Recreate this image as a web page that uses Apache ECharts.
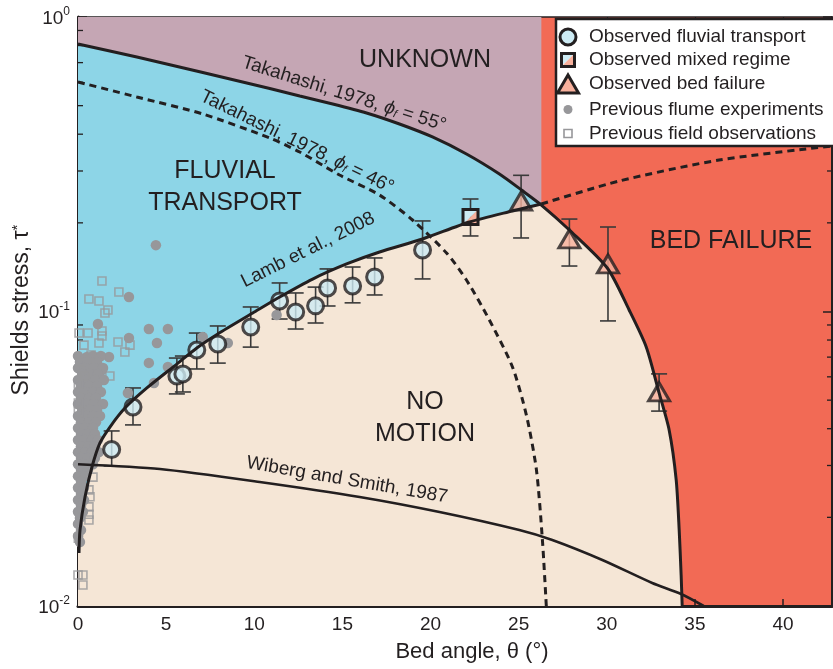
<!DOCTYPE html>
<html>
<head>
<meta charset="utf-8">
<script src="https://cdn.jsdelivr.net/npm/echarts@6/dist/echarts.min.js"></script>
<style>
  html, body { margin: 0; padding: 0; background: #ffffff; }
  #chart { width: 833px; height: 669px; }
</style>
</head>
<body>
<div id="chart"></div>
<script>
// ---- Axis ranges and ticks ----
const xMin = 0, xMax = 42.78;
const yMin = 0.01, yMax = 1;
const xTickStep = 5;
const yMinorTicks = [0.02, 0.03, 0.04, 0.05, 0.06, 0.07, 0.08, 0.09, 0.2, 0.3, 0.4, 0.5, 0.6, 0.7, 0.8, 0.9];

// ---- Observed fluvial transport: bed angle (deg), Shields stress, error-bar range ----
const fluvialAngle  = [1.91, 3.12, 5.61, 5.95, 6.74, 7.93, 9.80, 11.44, 12.35, 13.48, 14.16, 15.58, 16.83, 19.55];
const fluvialStress = [0.0340, 0.0474, 0.0604, 0.0614, 0.0740, 0.0776, 0.0886, 0.1086, 0.0996, 0.1045, 0.1202, 0.1221, 0.1310, 0.1618];
const fluvialLow    = [0.0299, 0.0412, 0.0525, 0.0533, 0.0638, 0.0668, 0.0757, 0.0943, 0.0872, 0.0914, 0.1044, 0.1070, 0.1138, 0.1290];
const fluvialHigh   = [0.0393, 0.0550, 0.0695, 0.0706, 0.0845, 0.0893, 0.1036, 0.1250, 0.1156, 0.1210, 0.1395, 0.1416, 0.1520, 0.2030];

// ---- Observed mixed regime ----
const mixedAngle  = [22.27];
const mixedStress = [0.2094];
const mixedLow    = [0.1805];
const mixedHigh   = [0.2410];

// ---- Observed bed failure ----
const failureAngle  = [25.14, 27.88, 30.07, 32.97];
const failureStress = [0.2372, 0.1763, 0.1450, 0.0533];
const failureLow    = [0.1777, 0.1427, 0.0929, 0.0459];
const failureHigh   = [0.2900, 0.2060, 0.1936, 0.0614];

// ---- Previous flume experiments [angle, stress] ----
const flumeScattered = [
  [4.42, 0.168], [2.89, 0.112], [1.13, 0.0907], [4.02, 0.0872], [5.10, 0.0872], [2.89, 0.0813],
  [4.48, 0.0782], [4.02, 0.0669], [1.76, 0.0701], [0.51, 0.0701], [5.10, 0.0648], [4.31, 0.0572],
  [1.36, 0.0633], [7.08, 0.0819], [8.50, 0.0782], [11.27, 0.0973], [2.83, 0.0529]
];
const flumeCluster = [
  [0.00, 0.0706], [0.85, 0.0706], [1.30, 0.0706],
  [0.11, 0.0674], [0.57, 0.0674], [1.08, 0.0674],
  [0.00, 0.0643], [0.40, 0.0643], [0.91, 0.0643], [1.42, 0.0643],
  [0.23, 0.0614], [0.68, 0.0614], [1.13, 0.0614],
  [0.00, 0.0585], [0.45, 0.0585], [0.96, 0.0585], [1.47, 0.0585],
  [0.17, 0.0558], [0.62, 0.0558], [1.08, 0.0558],
  [0.00, 0.0533], [0.40, 0.0533], [0.85, 0.0533], [1.30, 0.0533],
  [0.17, 0.0508], [0.62, 0.0508], [1.02, 0.0508],
  [0.00, 0.0485], [0.45, 0.0485], [0.91, 0.0485], [1.42, 0.0485],
  [0.23, 0.0463], [0.68, 0.0463], [1.08, 0.0463],
  [0.00, 0.0442], [0.45, 0.0442], [0.85, 0.0442], [1.25, 0.0442],
  [0.17, 0.0421], [0.62, 0.0421], [1.02, 0.0421],
  [0.00, 0.0402], [0.40, 0.0402], [0.85, 0.0402],
  [0.17, 0.0384], [0.57, 0.0384], [0.96, 0.0384],
  [0.00, 0.0366], [0.40, 0.0366], [0.79, 0.0366], [1.13, 0.0366],
  [0.17, 0.0349], [0.57, 0.0349], [0.96, 0.0349],
  [0.00, 0.0333], [0.40, 0.0333], [0.79, 0.0333], [1.19, 0.0333],
  [0.17, 0.0318], [0.57, 0.0318], [0.96, 0.0318],
  [0.00, 0.0303], [0.40, 0.0303], [0.85, 0.0303],
  [0.17, 0.0290], [0.57, 0.0290], [0.00, 0.0276], [0.40, 0.0276],
  [0.17, 0.0264], [0.00, 0.0252], [0.34, 0.0252],
  [0.17, 0.0240], [0.00, 0.0229], [0.34, 0.0229],
  [0.17, 0.0219], [0.00, 0.0209], [0.28, 0.0209],
  [0.11, 0.0199], [0.00, 0.0190], [0.17, 0.0181],
  [0.00, 0.0173], [0.11, 0.0165]
];

// ---- Previous field observations [angle, stress] ----
const fieldPoints = [
  [1.36, 0.1269], [2.32, 0.1165], [0.62, 0.1103], [1.19, 0.1086], [1.70, 0.1012], [1.53, 0.0988],
  [0.06, 0.0845], [0.57, 0.0845], [1.36, 0.0859], [1.36, 0.0826], [2.27, 0.0788], [2.95, 0.0769],
  [0.34, 0.0769], [1.19, 0.0782], [2.66, 0.0729], [0.17, 0.0674], [0.74, 0.0712], [1.81, 0.0604],
  [0.40, 0.0604], [0.02, 0.0567], [0.02, 0.0489], [0.02, 0.0456], [0.85, 0.0274], [0.62, 0.0248],
  [0.68, 0.0235], [0.62, 0.0217], [0.62, 0.0205], [0.62, 0.0196], [0.02, 0.0170], [0.00, 0.01274],
  [0.28, 0.01274], [0.28, 0.01178]
];

// ---- Threshold curves [angle, stress] ----
const takahashi55 = [
  [0, 0.810], [3.34, 0.731], [7.08, 0.6477], [10.88, 0.5717], [12.58, 0.5392], [14.45, 0.5065],
  [16.37, 0.4721], [18.24, 0.4331], [20.11, 0.3914], [22.04, 0.3426], [23.91, 0.2930], [25.16, 0.2586],
  [26.29, 0.2299], [27.88, 0.1891], [30.03, 0.1405], [31.27, 0.1012], [32.24, 0.0758], [32.97, 0.0529],
  [33.54, 0.0396], [33.94, 0.0268], [34.11, 0.0181], [34.22, 0.01274], [34.28, 0.0100]
];
const takahashi46 = [
  [0, 0.6015], [3.34, 0.535], [7.08, 0.4685], [10.88, 0.3882], [12.58, 0.348], [14.84, 0.2907],
  [17.11, 0.2486], [18.98, 0.2045], [20.91, 0.158], [22.04, 0.1279], [23.34, 0.0936], [24.65, 0.0648],
  [25.44, 0.0445], [26.01, 0.0290], [26.35, 0.01675], [26.57, 0.0100]
];
const lamb2008 = [
  [0.057, 0.01514], [0.113, 0.0181], [0.397, 0.02345], [0.793, 0.02965], [1.246, 0.03577],
  [1.813, 0.04053], [2.663, 0.0470], [3.909, 0.0550], [5.609, 0.0663], [6.742, 0.0752],
  [7.932, 0.0839], [9.915, 0.0988], [11.445, 0.1120], [13.314, 0.1289], [15.24, 0.1450],
  [17.11, 0.1592], [19.55, 0.1763], [22.21, 0.2013], [24.65, 0.2195], [26.29, 0.2317]
];
const lamb2008Extended = [[26.29, 0.2317], [30.71, 0.2774], [36.37, 0.3268], [42.78, 0.3648]];
const wiberg1987 = [
  [0, 0.0303], [4.646, 0.0292], [10.31, 0.02637], [15.98, 0.02345], [20.51, 0.02085],
  [25.04, 0.01811], [26.91, 0.01675], [29.75, 0.01433], [32.58, 0.01197], [34.22, 0.01098], [35.5, 0.0100]
];

// ---- Colours and fonts ----
const INK = '#231f20';
const C_UNKNOWN = '#c5a6b4';
const C_FLUVIAL = '#8dd5e7';
const C_NOMOTION = '#f5e6d6';
const C_FAILURE = '#f26a55';
const C_CIRCLE = '#cdebf4';
const C_TRI = '#f7b09c';
const C_GRAY = '#97979a';
const FONT = 'Liberation Sans, Arial, sans-serif';

// ---- Regime polygons built from the threshold curves ----
const split = 26.29;
const takUpper = takahashi55.filter(p => p[0] <= split);
const takLower = takahashi55.filter(p => p[0] >= split);
const unknownPoly = [[xMin, yMax], [split, yMax]].concat(takUpper.slice().reverse());
const fluvialPoly = takUpper.concat(lamb2008.slice().reverse(), [[xMin, lamb2008[0][1]]]);
const noMotionPoly = [[xMin, lamb2008[0][1]]].concat(lamb2008, takLower.slice(1), [[xMin, yMin]]);

function polygonSeries(points, fill) {
  return {
    type: 'custom', coordinateSystem: 'cartesian2d', silent: true,
    data: [[xMin, yMax]],
    renderItem: (params, api) => ({
      type: 'polygon',
      shape: { points: points.map(p => api.coord(p)) },
      style: { fill: fill }
    })
  };
}

function errorBarSeries(xs, lows, highs) {
  return {
    type: 'custom', coordinateSystem: 'cartesian2d', silent: true,
    data: xs.map((x, i) => [x, lows[i], highs[i]]),
    encode: { x: 0, y: [1, 2] },
    renderItem: (params, api) => {
      const x = api.value(0);
      const a = api.coord([x, api.value(1)]);
      const b = api.coord([x, api.value(2)]);
      const w = 8;
      const st = { stroke: '#3a3a3a', lineWidth: 1.6 };
      return {
        type: 'group', children: [
          { type: 'line', shape: { x1: a[0], y1: a[1], x2: b[0], y2: b[1] }, style: st },
          { type: 'line', shape: { x1: a[0] - w, y1: a[1], x2: a[0] + w, y2: a[1] }, style: st },
          { type: 'line', shape: { x1: b[0] - w, y1: b[1], x2: b[0] + w, y2: b[1] }, style: st }
        ]
      };
    }
  };
}

function curveSeries(data, dashed, width) {
  return {
    type: 'line', data: data, showSymbol: false, symbol: 'none', silent: true,
    smooth: 0.25, clip: true,
    lineStyle: { color: INK, width: width || 3, type: dashed ? [7, 5] : 'solid', cap: 'butt' }
  };
}

// split-square marker for the mixed regime
function mixedShape(cx, cy, s, z) {
  return [
    { type: 'polygon', z: z, shape: { points: [[cx - s, cy - s], [cx + s, cy - s], [cx - s, cy + s]] }, style: { fill: C_CIRCLE } },
    { type: 'polygon', z: z, shape: { points: [[cx + s, cy - s], [cx + s, cy + s], [cx - s, cy + s]] }, style: { fill: C_TRI } },
    { type: 'rect', z: z, shape: { x: cx - s, y: cy - s, width: 2 * s, height: 2 * s }, style: { fill: 'none', stroke: INK, lineWidth: 3 } }
  ];
}

const phiRich = {
  p: { fontSize: 19, fontFamily: FONT, fontStyle: 'italic', fill: INK },
  f: { fontSize: 11, fontFamily: FONT, fontStyle: 'italic', fill: INK, verticalAlign: 'bottom', lineHeight: 14 }
};

const chart = echarts.init(document.getElementById('chart'), null, { renderer: 'canvas' });

const option = {
  backgroundColor: '#ffffff',
  animation: false,
  grid: {
    left: 78, right: 1, top: 17, bottom: 63,
    show: true, backgroundColor: C_FAILURE, borderWidth: 0,
    containLabel: false, outerBoundsMode: 'none'
  },
  xAxis: [
    {
      type: 'value', min: xMin, max: xMax, interval: xTickStep, position: 'bottom',
      axisLine: { show: true, onZero: false, lineStyle: { color: INK, width: 3 } },
      axisTick: { show: true, inside: true, length: 7, lineStyle: { color: INK, width: 1.5 } },
      axisLabel: {
        show: true, margin: 9, color: INK, fontSize: 19, fontFamily: FONT,
        showMaxLabel: false,
        formatter: v => (Math.abs(v / xTickStep - Math.round(v / xTickStep)) < 1e-6 ? String(v) : '')
      },
      splitLine: { show: false }
    },
    {
      type: 'value', min: xMin, max: xMax, interval: xTickStep, position: 'top',
      axisLine: { show: true, onZero: false, lineStyle: { color: INK, width: 1.5 } },
      axisTick: { show: true, inside: true, length: 5, lineStyle: { color: INK, width: 1.2 } },
      axisLabel: { show: false },
      splitLine: { show: false }
    }
  ],
  yAxis: [
    {
      type: 'log', logBase: 10, min: yMin, max: yMax, position: 'left',
      axisLine: { show: true, onZero: false, lineStyle: { color: INK, width: 3 } },
      axisTick: { show: true, inside: true, length: 9, lineStyle: { color: INK, width: 1.5 } },
      axisLabel: {
        show: true, margin: 8, color: INK, fontFamily: FONT,
        formatter: v => '{b|10}{s|' + Math.round(Math.log10(v)) + '}',
        rich: {
          b: { fontSize: 19, fontFamily: FONT, color: INK, lineHeight: 22, verticalAlign: 'bottom' },
          s: { fontSize: 12, fontFamily: FONT, color: INK, lineHeight: 22, verticalAlign: 'top' }
        }
      },
      minorTick: { show: false },
      splitLine: { show: false }
    },
    {
      type: 'log', logBase: 10, min: yMin, max: yMax, position: 'right',
      axisLine: { show: true, onZero: false, lineStyle: { color: INK, width: 2 } },
      axisTick: { show: true, inside: true, length: 9, lineStyle: { color: INK, width: 1.5 } },
      axisLabel: { show: false },
      splitLine: { show: false }
    }
  ],
  series: [
    polygonSeries(unknownPoly, C_UNKNOWN),
    polygonSeries(fluvialPoly, C_FLUVIAL),
    polygonSeries(noMotionPoly, C_NOMOTION),
    // log-axis minor ticks on both sides
    {
      type: 'custom', coordinateSystem: 'cartesian2d', silent: true,
      data: yMinorTicks.map(v => [xMin, v]),
      renderItem: (params, api) => {
        const v = api.value(1);
        const l = api.coord([xMin, v]);
        const r = api.coord([xMax, v]);
        const st = { stroke: INK, lineWidth: 1.3 };
        return {
          type: 'group', children: [
            { type: 'line', shape: { x1: l[0], y1: l[1], x2: l[0] + 5, y2: l[1] }, style: st },
            { type: 'line', shape: { x1: r[0], y1: r[1], x2: r[0] - 5, y2: r[1] }, style: st }
          ]
        };
      }
    },
    {
      name: 'Previous flume experiments', type: 'scatter', data: flumeScattered.concat(flumeCluster),
      symbol: 'circle', symbolSize: 10.5, silent: true, clip: false,
      itemStyle: { color: C_GRAY, opacity: 1 }
    },
    {
      name: 'Previous field observations', type: 'scatter', data: fieldPoints,
      symbol: 'rect', symbolSize: 8, silent: true, clip: false,
      itemStyle: { color: 'rgba(0,0,0,0)', borderColor: C_GRAY, borderWidth: 1.6 }
    },
    curveSeries(wiberg1987, false, 2.6),
    curveSeries(takahashi46, true, 3),
    curveSeries(lamb2008Extended, true, 3),
    curveSeries(lamb2008, false, 3),
    curveSeries(takahashi55, false, 3),
    errorBarSeries(fluvialAngle, fluvialLow, fluvialHigh),
    errorBarSeries(mixedAngle, mixedLow, mixedHigh),
    errorBarSeries(failureAngle, failureLow, failureHigh),
    {
      name: 'Observed fluvial transport', type: 'scatter',
      data: fluvialAngle.map((x, i) => [x, fluvialStress[i]]),
      symbol: 'circle', symbolSize: 16, silent: true,
      itemStyle: { color: C_CIRCLE, borderColor: INK, borderWidth: 3 }
    },
    {
      name: 'Observed mixed regime', type: 'custom', coordinateSystem: 'cartesian2d', silent: true,
      data: mixedAngle.map((x, i) => [x, mixedStress[i]]),
      renderItem: (params, api) => {
        const p = api.coord([api.value(0), api.value(1)]);
        return { type: 'group', children: mixedShape(p[0], p[1], 7.5) };
      }
    },
    {
      name: 'Observed bed failure', type: 'scatter',
      data: failureAngle.map((x, i) => [x, failureStress[i]]),
      symbol: 'triangle', symbolSize: [21, 18], silent: true,
      itemStyle: { color: C_TRI, borderColor: INK, borderWidth: 3 }
    }
  ],
  graphic: [
    // regime names
    { type: 'text', x: 425, y: 60, z: 100, style: { text: 'UNKNOWN', fontSize: 25, fontFamily: FONT, fill: INK, align: 'center', verticalAlign: 'middle' } },
    { type: 'text', x: 225, y: 187, z: 100, style: { text: 'FLUVIAL\nTRANSPORT', fontSize: 25, lineHeight: 32, fontFamily: FONT, fill: INK, align: 'center', verticalAlign: 'middle' } },
    { type: 'text', x: 731, y: 241, z: 100, style: { text: 'BED FAILURE', fontSize: 25, fontFamily: FONT, fill: INK, align: 'center', verticalAlign: 'middle' } },
    { type: 'text', x: 425, y: 418, z: 100, style: { text: 'NO\nMOTION', fontSize: 25, lineHeight: 32, fontFamily: FONT, fill: INK, align: 'center', verticalAlign: 'middle' } },
    // curve names
    {
      type: 'text', x: 344, y: 94, rotation: -17.5 * Math.PI / 180, z: 100,
      style: { text: 'Takahashi, 1978, {p|ϕ}{f|f} = 55°', fontSize: 19, fontFamily: FONT, fill: INK, align: 'center', verticalAlign: 'middle', rich: phiRich }
    },
    {
      type: 'text', x: 297, y: 142, rotation: -26 * Math.PI / 180, z: 100,
      style: { text: 'Takahashi, 1978, {p|ϕ}{f|f} = 46°', fontSize: 19, fontFamily: FONT, fill: INK, align: 'center', verticalAlign: 'middle', rich: phiRich }
    },
    { type: 'text', x: 308, y: 250, rotation: 26.6 * Math.PI / 180, z: 100, style: { text: 'Lamb et al., 2008', fontSize: 19, fontFamily: FONT, fill: INK, align: 'center', verticalAlign: 'middle' } },
    { type: 'text', x: 347, y: 480, rotation: -9.8 * Math.PI / 180, z: 100, style: { text: 'Wiberg and Smith, 1987', fontSize: 19, fontFamily: FONT, fill: INK, align: 'center', verticalAlign: 'middle' } },
    // axis titles
    { type: 'text', x: 472, y: 652, z: 100, style: { text: 'Bed angle, θ (°)', fontSize: 22, fontFamily: FONT, fill: INK, align: 'center', verticalAlign: 'middle' } },
    {
      type: 'text', x: 22, y: 310, rotation: Math.PI / 2, z: 100,
      style: { text: 'Shields stress, τ{s|*}', fontSize: 23, fontFamily: FONT, fill: INK, align: 'center', verticalAlign: 'middle',
        rich: { s: { fontSize: 15, fontFamily: FONT, fill: INK, verticalAlign: 'top', lineHeight: 24 } } }
    },
    // legend
    { type: 'rect', z: 100, shape: { x: 556, y: 19, width: 290, height: 127 }, style: { fill: '#ffffff', stroke: INK, lineWidth: 2.5 } },
    { type: 'circle', z: 101, shape: { cx: 568, cy: 37, r: 8 }, style: { fill: C_CIRCLE, stroke: INK, lineWidth: 3 } },
    { type: 'group', z: 101, children: mixedShape(568, 60, 6.5, 101) },
    { type: 'polygon', z: 101, shape: { points: [[568, 75], [578.5, 93], [557.5, 93]] }, style: { fill: C_TRI, stroke: INK, lineWidth: 3 } },
    { type: 'circle', z: 101, shape: { cx: 568, cy: 109.5, r: 4.5 }, style: { fill: C_GRAY } },
    { type: 'rect', z: 101, shape: { x: 564, y: 129.5, width: 8, height: 8 }, style: { fill: 'none', stroke: C_GRAY, lineWidth: 1.6 } },
    { type: 'text', z: 101, x: 589, y: 37, style: { text: 'Observed fluvial transport', fontSize: 19, fontFamily: FONT, fill: INK, verticalAlign: 'middle' } },
    { type: 'text', z: 101, x: 589, y: 60, style: { text: 'Observed mixed regime', fontSize: 19, fontFamily: FONT, fill: INK, verticalAlign: 'middle' } },
    { type: 'text', z: 101, x: 589, y: 84, style: { text: 'Observed bed failure', fontSize: 19, fontFamily: FONT, fill: INK, verticalAlign: 'middle' } },
    { type: 'text', z: 101, x: 589, y: 109.5, style: { text: 'Previous flume experiments', fontSize: 19, fontFamily: FONT, fill: INK, verticalAlign: 'middle' } },
    { type: 'text', z: 101, x: 589, y: 133.5, style: { text: 'Previous field observations', fontSize: 19, fontFamily: FONT, fill: INK, verticalAlign: 'middle' } }
  ]
};

chart.setOption(option);
</script>
</body>
</html>
